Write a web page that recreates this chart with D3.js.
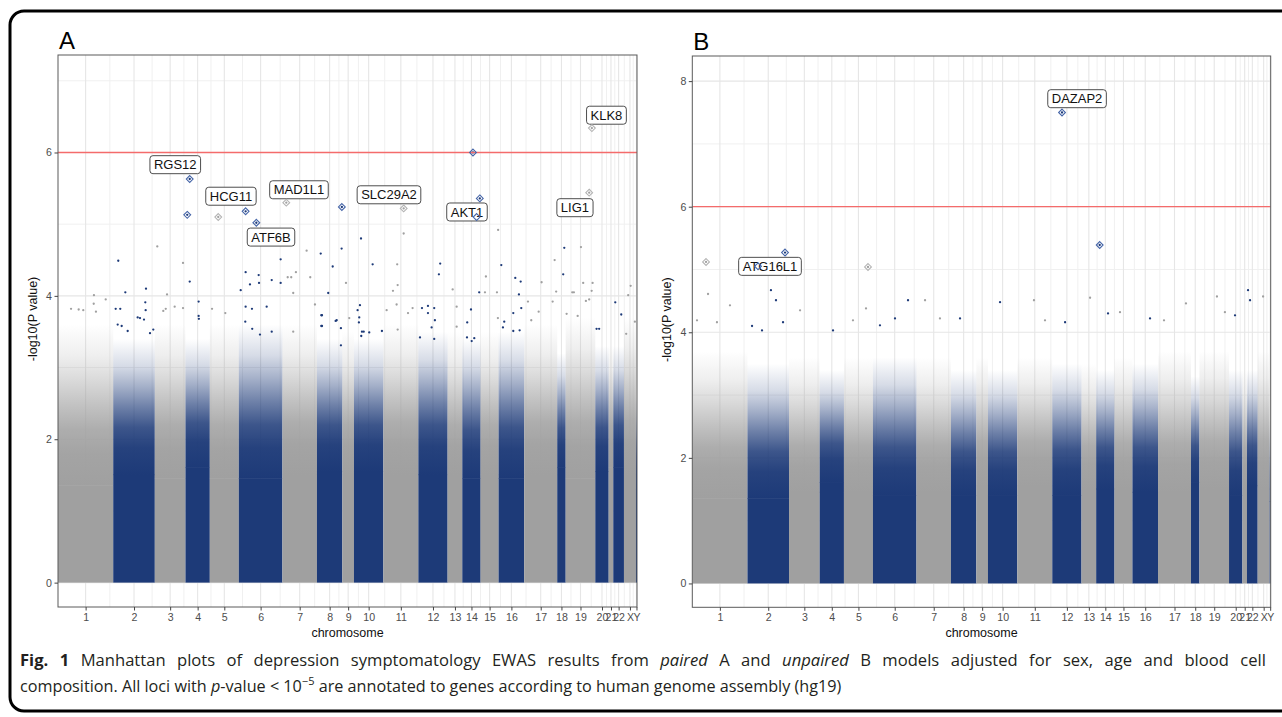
<!DOCTYPE html>
<html>
  <head>
    <meta charset="utf-8">
    <script src="https://cdn.jsdelivr.net/npm/d3@7"></script>
    <style>
      body { margin: 0; background: #ffffff; }
      svg text { font-family: "Liberation Sans", Arial, sans-serif; }
      .caption text { font-family: "Open Sans", "Noto Sans", sans-serif; }
    </style>
  </head>
  <body>
    <svg id="fig" width="1282" height="717"></svg>
    <script>
      var chromosomes = ["1","2","3","4","5","6","7","8","9","10","11","12","13","14","15","16","17","18","19","20","21","22","X","Y"];
      var chrSize = [47.0, 35.4, 26.1, 20.7, 24.7, 37.1, 29.4, 21.6, 9.9, 25.0, 29.8, 24.9, 12.5, 15.6, 15.3, 21.8, 28.1, 7.2, 25.2, 11.4, 3.9, 9.1, 10.2, 0.9];

      var yTicksA = [0, 2, 4, 6];
      var yTicksB = [0, 2, 4, 6, 8];
      var threshold = 6;

      // dense part of the cloud: -log10(p) where points merge into a solid band, and where the thinning cloud ends
      var solidA = [1.35, 1.5, 1.45, 1.6, 1.45, 1.45, 1.5, 1.55, 1.5, 1.55, 1.5, 1.5, 1.5, 1.45, 1.5, 1.45, 1.5, 1.6, 1.45, 1.55, 1.6, 1.6, 1.5, 1.3];
      var topA   = [3.6, 3.4, 3.6, 3.4, 3.6, 3.6, 3.6, 3.4, 3.5, 3.4, 3.6, 3.5, 3.5, 3.4, 3.5, 3.5, 3.6, 3.2, 3.7, 3.3, 3.3, 3.3, 3.7, 2.6];
      var solidB = [1.35, 1.35, 1.45, 1.6, 1.45, 1.4, 1.45, 1.4, 1.55, 1.4, 1.55, 1.4, 1.5, 1.5, 1.5, 1.45, 1.45, 1.6, 1.5, 1.4, 1.5, 1.55, 1.5, 1.3];
      var topB   = [3.7, 3.5, 3.6, 3.4, 3.6, 3.6, 3.6, 3.4, 3.6, 3.4, 3.6, 3.5, 3.5, 3.4, 3.6, 3.5, 3.7, 3.3, 3.7, 3.4, 3.4, 3.4, 3.7, 2.6];

      // single CpGs above the cloud: [cumulative position (k probes), -log10(p)]
      var pointsA = [
        [84.5,4.69],[51.3,4.49],[106.4,4.46],[112.1,4.20],[57.3,4.05],[74.9,4.10],[92.8,4.02],
        [159.7,4.33],[163.4,4.16],[170.8,4.29],[171.1,4.18],[155.5,4.08],[181.9,4.22],[189.5,4.51],[189.5,4.18],
        [211.6,4.63],[223.6,4.59],[195.5,4.26],[198.5,4.26],[202.5,4.33],[200.2,4.04],[214.7,4.26],[230.0,4.04],
        [11.1,3.82],[17.6,3.81],[21.5,3.80],[30.6,4.01],[30.4,3.89],[32.3,3.78],[40.6,3.95],[49.1,3.82],[53.0,3.82],
        [74.3,3.91],[74.6,3.80],[67.8,3.70],[69.8,3.69],[73.2,3.67],[91.7,3.82],[89.6,3.79],[99.3,3.85],[106.4,3.83],
        [119.7,3.92],[119.7,3.72],[119.9,3.68],[131.1,3.82],[142.4,3.76],[159.7,3.85],[177.6,3.85],[165.1,3.82],
        [50.8,3.60],[54.2,3.58],[59.3,3.51],[81.1,3.53],[78.3,3.48],[159.4,3.64],[165.3,3.54],[171.9,3.46],
        [181.9,3.50],[200.2,3.50],[218.7,3.88],[224.1,3.73],[224.1,3.58],
        [257.9,4.80],[241.4,4.66],[233.8,4.41],[245.1,4.18],[267.8,4.44],[294.2,4.87],[288.7,4.44],[289.1,4.15],
        [285.1,4.07],[325.3,4.45],[324.2,4.30],[335.9,4.09],[374.6,4.92],[377.3,4.43],[364.2,4.27],[358.5,4.05],
        [363.4,4.05],[373.6,4.05],[389.2,4.25],[393.8,4.20],[392.3,4.02],[411.6,4.19],[422.7,4.50],[424.0,4.06],
        [430.9,4.67],[430.0,4.30],[445.1,4.68],[437.7,4.05],[439.1,4.05],[447.0,4.18],[455.0,4.18],[454.2,4.07],
        [487.4,4.14],[485.3,4.01],[474.3,3.91],[479.4,3.74],[491.0,3.64],[483.6,3.47],[460.6,3.54],[458.4,3.54],
        [449.3,3.93],[452.1,3.95],[442.3,3.72],[432.9,3.75],[421.0,3.92],[400.0,3.92],[409.1,3.78],[402.8,3.66],
        [387.5,3.76],[394.3,3.83],[379.8,3.64],[378.7,3.56],[387.5,3.51],[392.9,3.52],[374.4,3.69],[351.5,3.81],
        [348.3,3.63],[348.1,3.42],[352.1,3.37],[354.3,3.41],[339.3,3.85],[339.3,3.57],[309.8,3.83],[314.9,3.86],
        [320.2,3.83],[314.9,3.76],[320.8,3.66],[318.0,3.56],[308.1,3.42],[320.2,3.40],[297.9,3.76],[301.8,3.83],
        [288.2,3.88],[289.1,3.53],[279.7,3.80],[255.0,3.80],[257.0,3.87],[256.4,3.70],[256.1,3.63],[258.7,3.50],
        [260.2,3.50],[258.1,3.44],[264.9,3.49],[275.7,3.51],[240.8,3.55],[240.8,3.31],[237.2,3.66],[236.3,3.65],
        [224.7,3.73],[224.7,3.58],[247.9,3.69]
      ];
      var pointsB = [
        [13.4,4.61],[4.0,4.19],[21.0,4.16],[32.1,4.43],[67.0,4.67],[71.3,4.51],[59.4,4.03],[77.3,4.16],
        [50.9,4.10],[91.8,4.35],[119.9,4.03],[136.9,4.19],[148.0,4.38],[183.8,4.51],[172.7,4.22],[159.9,4.11],
        [198.3,4.51],[211.0,4.22],[228.1,4.22],[262.2,4.48],[291.1,4.51],[300.5,4.19],[317.6,4.16],[338.9,4.55],
        [354.2,4.30],[364.4,4.32],[390.0,4.22],[401.9,4.19],[420.6,4.46],[447.0,4.57],[453.8,4.32],[462.4,4.27],
        [473.5,4.67],[475.2,4.51],[486.3,4.57]
      ];

      // loci with p < 1e-5 (drawn as open diamonds)
      var hitsA = [[112.1,5.63],[110.0,5.13],[136.4,5.10],[159.7,5.18],[168.8,5.02],[194.3,5.30],[241.6,5.24],
                   [294.2,5.22],[353.2,6.00],[359.0,5.36],[356.3,5.10],[454.4,6.34],[452.1,5.44]];
      var hitsB = [[315.0,7.50],[347.1,5.39],[79.0,5.27],[11.7,5.12],[149.7,5.04],[56.0,5.05]];

      // gene labels: [gene, position of label centre, -log10(p) of label centre]
      var labelsA = [["RGS12",99.8,5.83],["HCG11",147.2,5.39],["MAD1L1",205.1,5.48],["ATF6B",181.3,4.82],
                     ["SLC29A2",281.7,5.41],["AKT1",348.1,5.17],["KLK8",466.8,6.52],["LIG1",440.0,5.23]];
      var labelsB = [["DAZAP2",327.8,7.72],["ATG16L1",66.2,5.05]];

      var greyCol = "#a0a0a0", blueCol = "#1d3a78";
      var hitBlue = "#4565a8", hitGrey = "#b4b4b4";

      var chrStart = [], acc = 0;
      chrSize.forEach(function(s) { chrStart.push(acc); acc += s; });
      var genomeLen = acc;
      var chrMid = chrStart.map(function(s, i) { return s + chrSize[i] / 2; });
      var minorX = chrMid.slice(1).map(function(m, i) { return (m + chrMid[i]) / 2; });

      function chrOf(pos) {
        for (var i = 0; i < chrSize.length; i++) if (pos < chrStart[i] + chrSize[i]) return i;
        return chrSize.length - 1;
      }
      function colOf(pos, a, b) { return chrOf(pos) % 2 ? a : b; }

      var svg = d3.select("#fig");
      var defs = svg.append("defs");

      // thinning of the cloud, bottom (solid) to top (empty)
      var fadeStops = [[0, 1], [0.2, 0.96], [0.35, 0.86], [0.5, 0.64], [0.65, 0.4], [0.8, 0.18], [1, 0]];
      [["fadeGrey", greyCol], ["fadeBlue", blueCol]].forEach(function(g) {
        var lg = defs.append("linearGradient").attr("id", g[0])
          .attr("x1", 0).attr("y1", 1).attr("x2", 0).attr("y2", 0);
        fadeStops.forEach(function(s) {
          lg.append("stop").attr("offset", s[0]).attr("stop-color", g[1]).attr("stop-opacity", s[1]);
        });
      });

      // outer frame
      svg.append("rect")
        .attr("x", 10).attr("y", 11).attr("width", 1300).attr("height", 700)
        .attr("rx", 14).attr("fill", "none").attr("stroke", "#000").attr("stroke-width", 3);

      function drawPanel(p) {
        var x = d3.scaleLinear().domain([0, genomeLen]).range([p.left, p.right]);
        var y = d3.scaleLinear().domain(p.yDomain).range([p.bottom, p.top]);
        var g = svg.append("g");
        var clipId = "clip" + p.letter;
        defs.append("clipPath").attr("id", clipId).append("rect")
          .attr("x", p.left).attr("y", p.top).attr("width", p.right - p.left).attr("height", p.bottom - p.top);

        // grid
        var minorY = p.yTicks.slice(1).map(function(t, i) { return (t + p.yTicks[i]) / 2; });
        minorY.push(p.yTicks[p.yTicks.length - 1] + 1);
        minorY = minorY.filter(function(v) { return v < p.yDomain[1]; });
        g.selectAll(".gminx").data(minorX).enter().append("line")
          .attr("x1", x).attr("x2", x).attr("y1", p.top).attr("y2", p.bottom)
          .attr("stroke", "#f0f0f0").attr("stroke-width", 1);
        g.selectAll(".gminy").data(minorY).enter().append("line")
          .attr("y1", y).attr("y2", y).attr("x1", p.left).attr("x2", p.right)
          .attr("stroke", "#f0f0f0").attr("stroke-width", 1);
        g.selectAll(".gmajx").data(chrMid).enter().append("line")
          .attr("x1", x).attr("x2", x).attr("y1", p.top).attr("y2", p.bottom)
          .attr("stroke", "#e6e6e6").attr("stroke-width", 1.1);
        g.selectAll(".gmajy").data(p.yTicks).enter().append("line")
          .attr("y1", y).attr("y2", y).attr("x1", p.left).attr("x2", p.right)
          .attr("stroke", "#e6e6e6").attr("stroke-width", 1.1);

        var plot = g.append("g").attr("clip-path", "url(#" + clipId + ")");

        // dense cloud per chromosome
        chromosomes.forEach(function(c, i) {
          var x0 = x(chrStart[i]), w = x(chrStart[i] + chrSize[i]) - x0;
          var blue = i % 2 === 1;
          plot.append("rect").attr("x", x0).attr("width", w)
            .attr("y", y(p.solid[i]) - 0.5).attr("height", y(0) - y(p.solid[i]) + 0.5)
            .attr("fill", blue ? blueCol : greyCol);
          plot.append("rect").attr("x", x0).attr("width", w)
            .attr("y", y(p.cloudTop[i])).attr("height", y(p.solid[i]) - y(p.cloudTop[i]))
            .attr("fill", blue ? "url(#fadeBlue)" : "url(#fadeGrey)");
        });

        // single points
        plot.selectAll(".pt").data(p.points.concat(p.hits)).enter().append("circle")
          .attr("cx", function(d) { return x(d[0]); })
          .attr("cy", function(d) { return y(d[1]); })
          .attr("r", 1.15)
          .attr("fill", function(d) { return colOf(d[0], blueCol, greyCol); });

        // threshold
        plot.append("line").attr("x1", p.left).attr("x2", p.right)
          .attr("y1", y(threshold)).attr("y2", y(threshold))
          .attr("stroke", "#f46b6b").attr("stroke-width", 1.3);

        // gene labels
        p.labels.forEach(function(l) {
          var lg = plot.append("g");
          var t = lg.append("text").attr("x", x(l[1])).attr("y", y(l[2]) + 4.6)
            .attr("text-anchor", "middle").attr("font-size", 13).attr("fill", "#111").text(l[0]);
          var w = t.node().getComputedTextLength() + 8;
          lg.insert("rect", "text").attr("x", x(l[1]) - w / 2).attr("y", y(l[2]) - 9)
            .attr("width", w).attr("height", 18).attr("rx", 3)
            .attr("fill", "#fff").attr("stroke", "#3a3a3a").attr("stroke-width", 0.9);
        });

        // open diamonds for significant loci
        plot.selectAll(".hit").data(p.hits).enter().append("path")
          .attr("d", "M0,-3.4L3.4,0L0,3.4L-3.4,0Z")
          .attr("transform", function(d) { return "translate(" + x(d[0]) + "," + y(d[1]) + ")"; })
          .attr("fill", "none").attr("stroke-width", 1.1)
          .attr("stroke", function(d) { return colOf(d[0], hitBlue, hitGrey); });

        // panel border
        g.append("rect").attr("x", p.left).attr("y", p.top)
          .attr("width", p.right - p.left).attr("height", p.bottom - p.top)
          .attr("fill", "none").attr("stroke", "#5a5a5a").attr("stroke-width", 1);

        // axes
        var ya = g.append("g").attr("transform", "translate(" + p.left + ",0)")
          .call(d3.axisLeft(y).tickValues(p.yTicks).tickSize(3.5).tickPadding(2.5));
        var xa = g.append("g").attr("transform", "translate(0," + p.bottom + ")")
          .call(d3.axisBottom(x).tickValues(chrMid).tickSize(3.5).tickPadding(3)
            .tickFormat(function(d, i) { return chromosomes[i]; }));
        [ya, xa].forEach(function(a) {
          a.select(".domain").remove();
          a.selectAll("line").attr("stroke", "#444");
          a.selectAll("text").attr("fill", "#4d4d4d").attr("font-size", 10.6)
            .attr("font-family", "Liberation Sans, Arial, sans-serif");
        });

        // titles
        g.append("text").attr("x", (p.left + p.right) / 2).attr("y", p.bottom + 30)
          .attr("text-anchor", "middle").attr("font-size", 12.5).attr("fill", "#111").text("chromosome");
        g.append("text").attr("transform", "translate(" + (p.left - 21) + "," + ((p.top + p.bottom) / 2 - 12) + ")rotate(-90)")
          .attr("text-anchor", "middle").attr("font-size", 12.5).attr("fill", "#111").text("-log10(P value)");
        g.append("text").attr("x", p.left + 1).attr("y", p.top - 6)
          .attr("font-size", 24).attr("fill", "#000")
          .attr("font-family", "Open Sans, Noto Sans, sans-serif").text(p.letter);
      }

      drawPanel({ letter: "A", left: 58, right: 637, top: 55, bottom: 607, yDomain: [-0.34, 7.36],
                  yTicks: yTicksA, solid: solidA, cloudTop: topA, points: pointsA, hits: hitsA, labels: labelsA });
      drawPanel({ letter: "B", left: 692.3, right: 1270.7, top: 56, bottom: 607.3, yDomain: [-0.38, 8.4],
                  yTicks: yTicksB, solid: solidB, cloudTop: topB, points: pointsB, hits: hitsB, labels: labelsB });

      // caption
      var cap = svg.append("g").attr("class", "caption");
      var line1 = cap.append("text").attr("x", 20).attr("y", 666).attr("font-size", 16.6).attr("fill", "#231f20");
      line1.append("tspan").attr("font-weight", "bold").text("Fig. 1");
      line1.append("tspan").text(" Manhattan plots of depression symptomatology EWAS results from ");
      line1.append("tspan").attr("font-style", "italic").text("paired");
      line1.append("tspan").text(" A and ");
      line1.append("tspan").attr("font-style", "italic").text("unpaired");
      line1.append("tspan").text(" B models adjusted for sex, age and blood cell");
      var nat = line1.node().getComputedTextLength();
      var spaces = 22;
      line1.style("word-spacing", Math.max(0, (1266 - 20 - nat) / spaces) + "px");

      var line2 = cap.append("text").attr("x", 20).attr("y", 692).attr("font-size", 16.2).attr("fill", "#231f20");
      line2.append("tspan").text("composition. All loci with ");
      line2.append("tspan").attr("font-style", "italic").text("p");
      line2.append("tspan").text("-value < 10");
      line2.append("tspan").attr("font-size", 11).attr("dy", -7).text("\u22125");
      line2.append("tspan").attr("dy", 7).text(" are annotated to genes according to human genome assembly (hg19)");
    </script>
  </body>
</html>
